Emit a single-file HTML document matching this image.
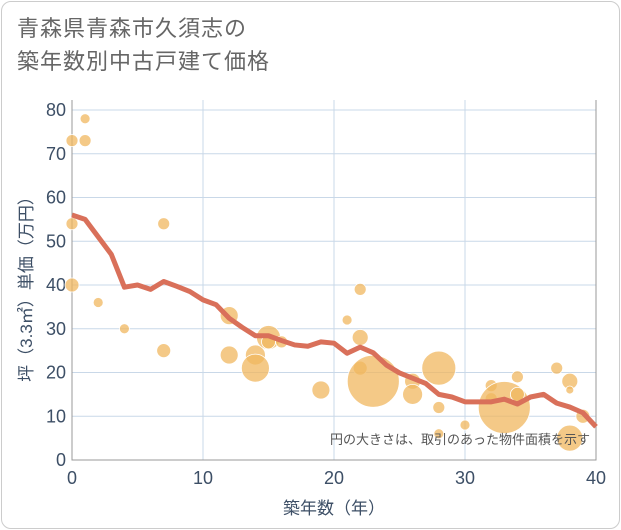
<!DOCTYPE html>
<html><head><meta charset="utf-8"><style>
body{margin:0;background:#fff;font-family:"Liberation Sans","Noto Sans CJK JP",sans-serif;}
#card{position:absolute;left:1px;top:1px;width:617px;height:526px;border:1px solid #ccc;border-radius:10px;background:#fff;}
#title{position:absolute;left:17px;top:12px;font-size:22px;line-height:33px;color:#666;letter-spacing:1px;}
</style></head><body>
<div id="card"></div>
<div id="title">青森県青森市久須志の<br>築年数別中古戸建て価格</div>
<svg id="chart" width="621" height="530" style="position:absolute;left:0;top:0"></svg>
<script>
const xTicks=[0,10,20,30,40];
const yTicks=[0,10,20,30,40,50,60,70,80];
const lineYears=[0,1,2,3,4,5,6,7,8,9,10,11,12,13,14,15,16,17,18,19,20,21,22,23,24,25,26,27,28,29,30,31,32,33,34,35,36,37,38,39,40];
const linePrices=[56,55,51,47,39.5,40,39,40.8,39.7,38.5,36.6,35.5,32.4,30.3,28.4,28.4,27.3,26.3,26,27,26.7,24.4,25.8,24.5,21.7,19.9,18.7,17.5,15,14.4,13.3,13.3,13.3,13.9,12.8,14.4,15,13,12.1,10.8,7.6];
const bubbleX=[0,1,1,0,0,2,4,7,7,12,12,14,14,15,15,16,19,21,22,22,22,23,26,26,28,28,28,30,32,32,33,34,34,37,38,38,38,39];
const bubbleY=[73,78,73,54,40,36,30,54,25,33,24,24,21,28,27,27,16,32,39,28,21,18,18,15,21,12,6,8,17,14,12,19,15,21,18,16,5,10];
const bubbleR=[6,5,6,6,7,5,5,6,7,9,9,10,14,12,7,6,9,5,6,8,7,26,8,10,17,6,5,5,6,6,26,6,7,6,8,4,13,7];
const X0=72,X1=596,Y0=460,Y1=110;
const sx=v=>X0+(X1-X0)*v/40, sy=v=>Y0-(Y0-Y1)*v/80;
const svg=document.getElementById('chart');const NS='http://www.w3.org/2000/svg';
function mk(t,a,p){const e=document.createElementNS(NS,t);for(const k in a)e.setAttribute(k,a[k]);(p||svg).appendChild(e);return e;}
const grid=mk('g',{});


yTicks.forEach(v=>{const l=mk('line',{x1:X0,x2:X1,y1:sy(v),y2:sy(v),stroke:'#c9d8e8','stroke-width':1},grid);


const t=mk('text',{x:X0-6,y:sy(v)+6,'text-anchor':'end','font-size':18,fill:'#3d4f66'});t.textContent=v;

});
xTicks.forEach(v=>{const l=mk('line',{x1:sx(v),x2:sx(v),y1:Y1-10,y2:Y0,stroke:'#c9d8e8','stroke-width':1},grid);


const t=mk('text',{x:sx(v),y:Y0+24,'text-anchor':'middle','font-size':18,fill:'#3d4f66'});t.textContent=v;

});
const ax=mk('path',{d:`M${X0},${Y1-10}V${Y0}H${X1}V${Y1-10}`,fill:'none',stroke:'#999','stroke-width':1});


bubbleX.forEach((x,i)=>{const c=mk('circle',{cx:sx(x),cy:sy(bubbleY[i]),r:bubbleR[i],fill:'rgba(240,183,95,0.75)',stroke:'#fff','stroke-width':0.8});

});
const p=mk('polyline',{points:lineYears.map((x,i)=>sx(x)+','+sy(linePrices[i])).join(' '),fill:'none',stroke:'#d9705a','stroke-width':5,'stroke-linejoin':'round'});


const n=mk('text',{x:590,y:444,'text-anchor':'end','font-size':13,fill:'#555'});n.textContent='円の大きさは、取引のあった物件面積を示す';


const xl=mk('text',{x:334,y:514,'text-anchor':'middle','font-size':17,fill:'#3d4f66'});xl.textContent='築年数（年）';


const yl=mk('text',{x:0,y:0,'text-anchor':'middle','font-size':17,fill:'#3d4f66',transform:'translate(32,285) rotate(-90)'});yl.textContent='坪（3.3㎡）単価（万円）';


</script></body></html>
